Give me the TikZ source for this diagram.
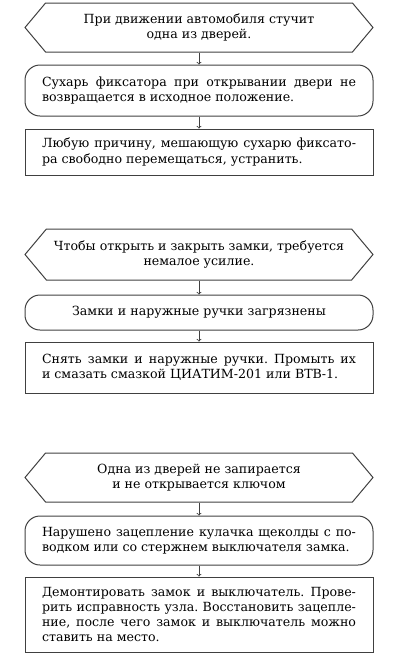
\documentclass[tikz,border=0pt]{standalone}
\usepackage{fontspec}
\setmainfont{DejaVu Serif}
\frenchspacing
\usetikzlibrary{shapes.symbols,positioning}

\tikzset{
	box/.style={draw=black!75, line width=1pt, font=\fontsize{12.6}{15.2}\selectfont, inner ysep=2pt},
	problem/.style={box, signal, signal to=west and east, signal pointer angle=100,
		minimum width=348pt, align=center},
	cause/.style={box, rectangle, rounded corners=15pt, text width=314pt, inner xsep=17pt},
	remedy/.style={box, rectangle, text width=314pt, inner xsep=17pt},
	link/.style={-to, draw=black!75, line width=0.8pt}
}

\begin{document}
\begin{tikzpicture}[x=1pt, y=1pt]

	\useasboundingbox (0,0) rectangle (400,-657);
	\pgfmathsetmacro{\xmid}{199}

	% first block
	\node[problem, minimum height=49pt] (knock) at (\xmid,-27.5)
		{При движении автомобиля стучит\\одна из дверей.};
	\node[cause, minimum height=51pt, align=justify] (latch) at (\xmid,-90.5)
		{Сухарь фиксатора при открывании двери не\linebreak возвращается в исходное положение.};
	\node[remedy, minimum height=46pt, align=justify] (freeup) at (\xmid,-152)
		{Любую причину, мешающую сухарю фиксато-\linebreak ра свободно перемещаться, устранить.};

	% second block
	\node[problem, minimum height=51pt] (stiff) at (\xmid,-254.5)
		{Чтобы открыть и закрыть замки, требуется\\немалое усилие.};
	\node[cause, minimum height=35pt, align=center] (dirt) at (\xmid,-312.5)
		{Замки и наружные ручки загрязнены};
	\node[remedy, minimum height=51pt, align=justify] (grease) at (\xmid,-367.5)
		{Снять замки и наружные ручки. Промыть их\linebreak и смазать смазкой ЦИАТИМ-201 или ВТВ-1.};

	% third block
	\node[problem, minimum height=49pt] (nolock) at (\xmid,-477.5)
		{Одна из дверей не запирается\\и не открывается ключом};
	\node[cause, minimum height=49pt, align=justify] (cam) at (\xmid,-540.5)
		{Нарушено зацепление кулачка щеколды с по-\linebreak водком или со стержнем выключателя замка.};
	\node[remedy, minimum height=75pt, align=justify] (rebuild) at (\xmid,-614.5)
		{Демонтировать замок и выключатель. Прове-\linebreak рить исправность узла. Восстановить зацепле-\linebreak ние, после чего замок и выключатель можно\linebreak ставить на место.};

	\foreach \a/\b in {knock/latch, latch/freeup, stiff/dirt, dirt/grease, nolock/cam, cam/rebuild}
		\draw[link] (\a.south) -- (\b.north);

\end{tikzpicture}
\end{document}
